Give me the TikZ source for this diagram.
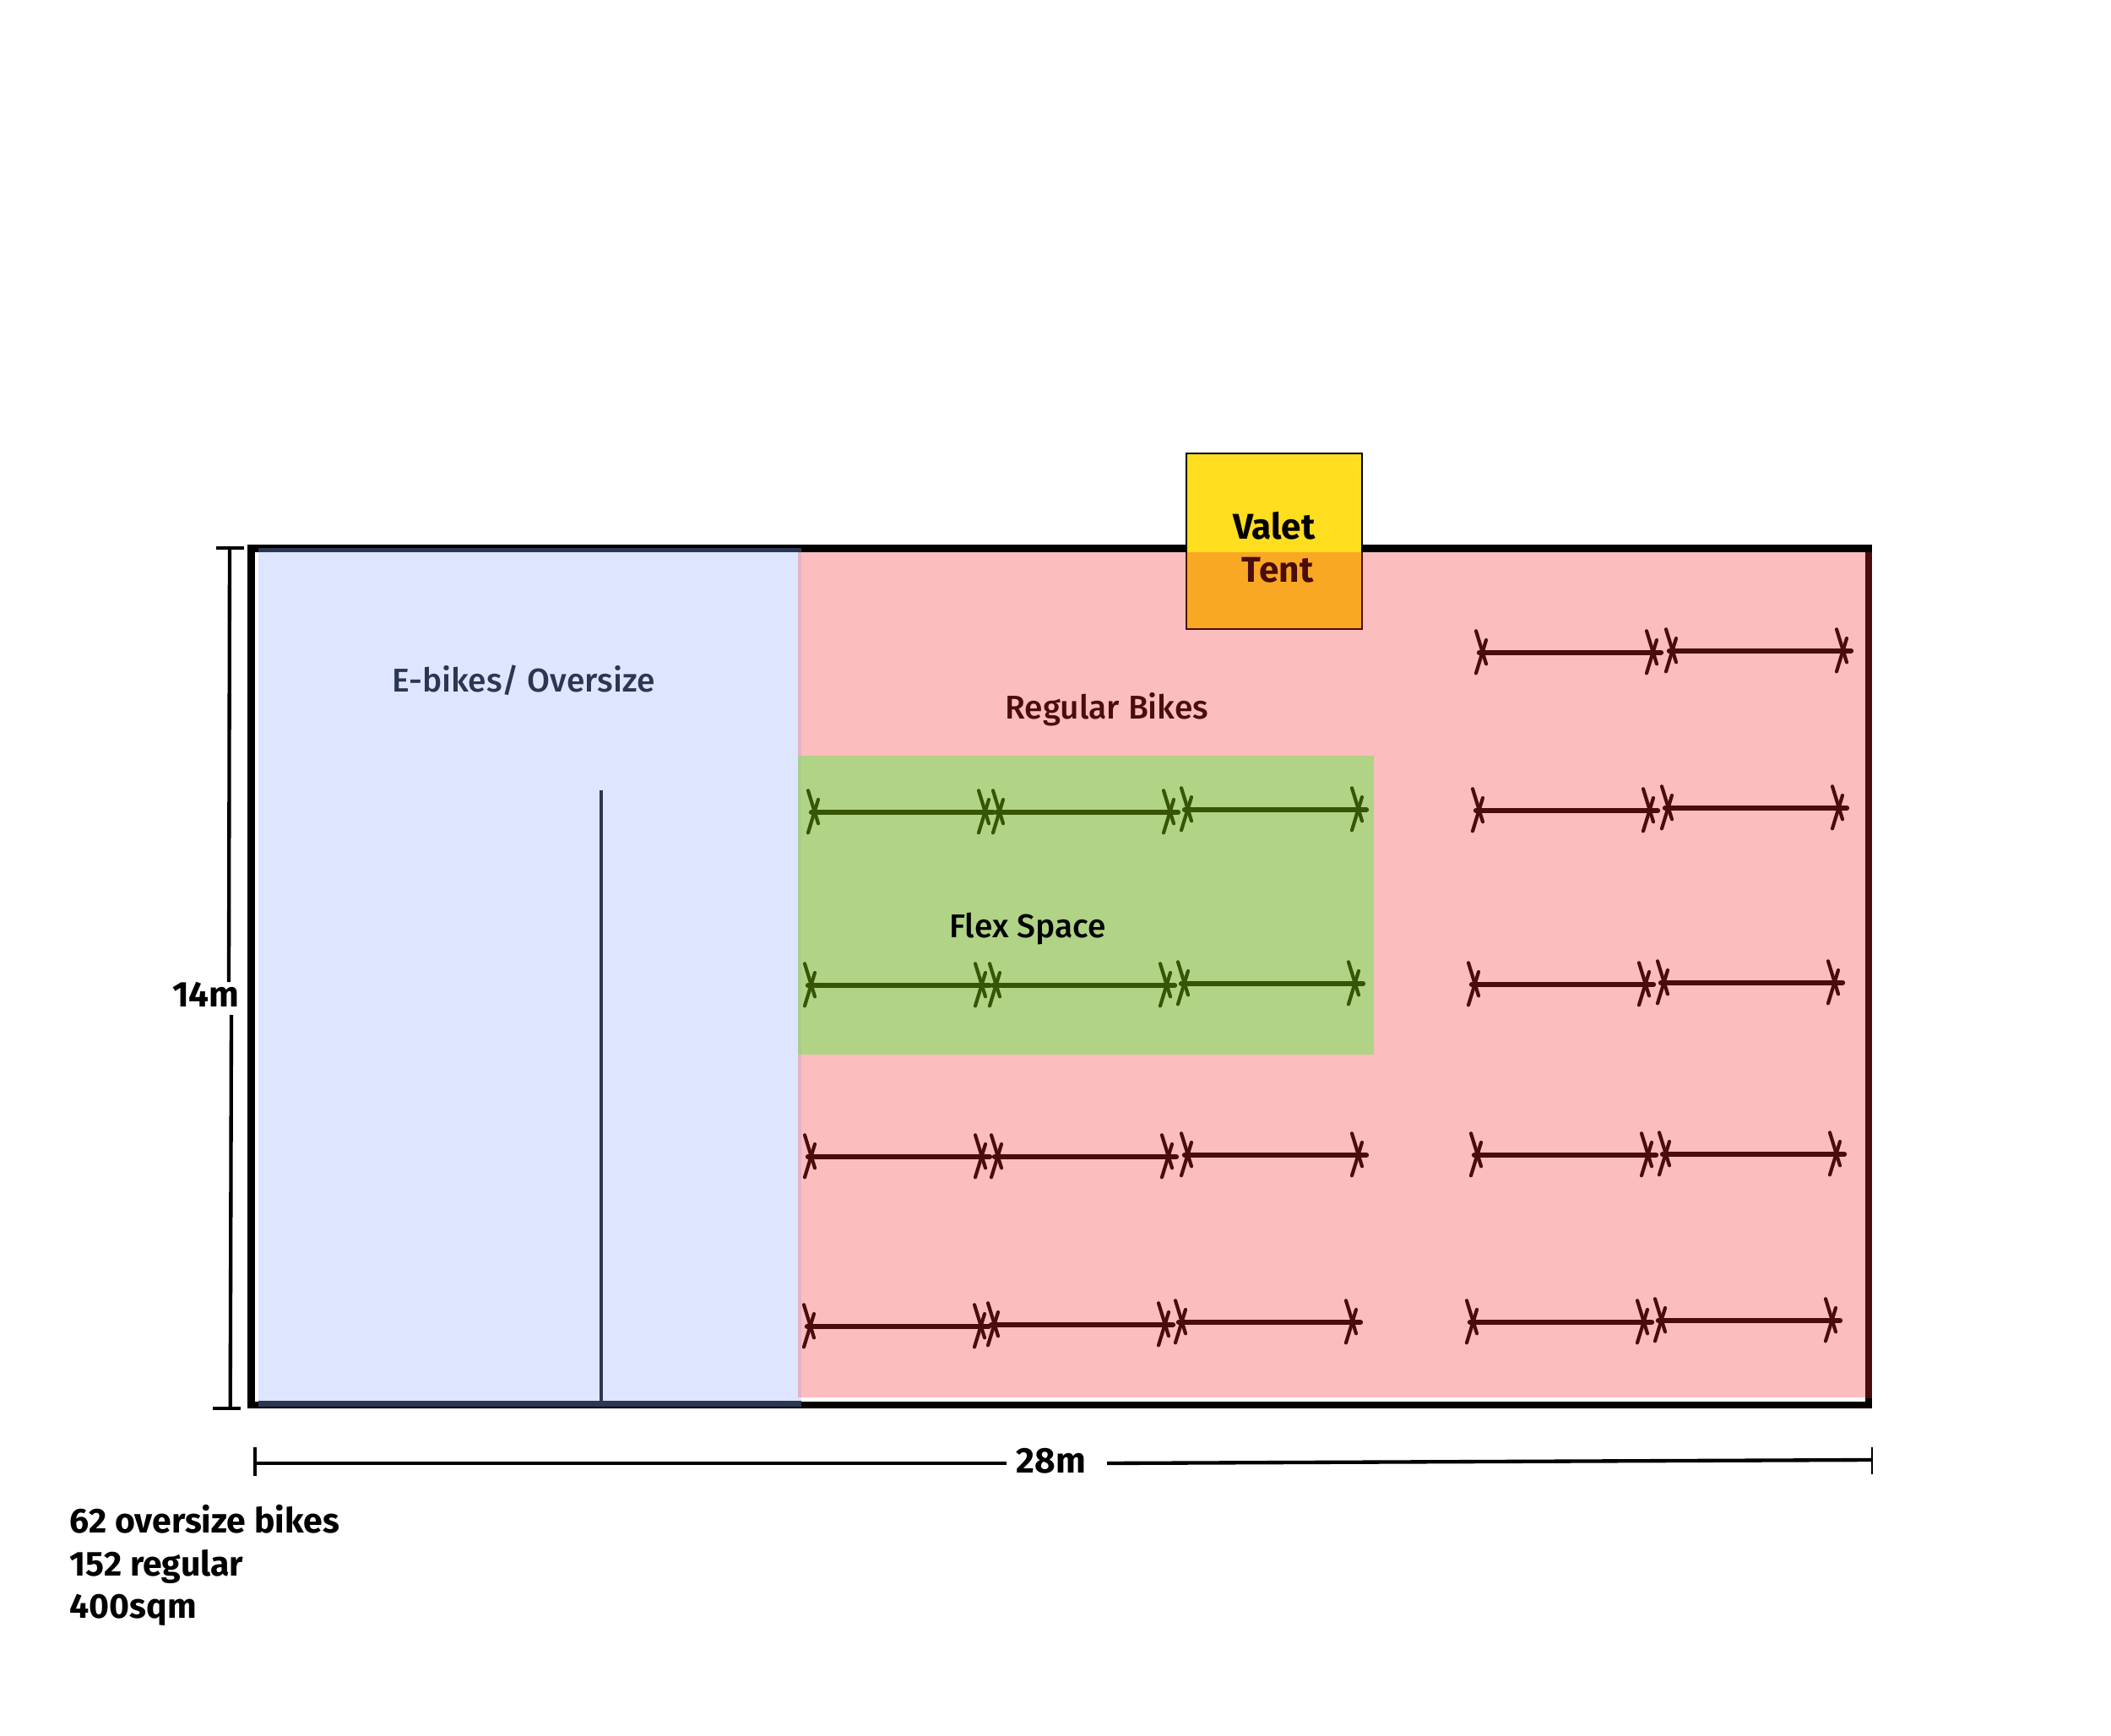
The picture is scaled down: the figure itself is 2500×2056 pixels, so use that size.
\documentclass[tikz,border=0pt]{standalone}
\usepackage{fontspec}
\setmainfont{Fira Sans}
\newfontfamily\medf{Fira Sans Medium}
\definecolor{blueF}{HTML}{DEE5FE}
\definecolor{pinkF}{HTML}{FBBDBE}
\definecolor{mauve}{HTML}{E6B2C6}
\definecolor{greenF}{HTML}{B0D386}
\definecolor{greenE}{HTML}{A8CE8A}
\definecolor{navy}{HTML}{2B3752}
\definecolor{maroon}{HTML}{4A0C0C}
\definecolor{leaf}{HTML}{365505}
\definecolor{yel}{HTML}{FFDD1F}
\definecolor{org}{HTML}{F9A823}
\newcommand{\rackseg}[3]{%
  \begin{scope}[shift={(#1,#2)},draw=#3]
    \draw[seg] (-2,0) -- (213,0);
    \draw[barb] (-6,-25.7) -- (6,13.3);
    \draw[barb] (6,-15) -- (-6,24.3);
    \draw[barb] (196,-25.7) -- (208,13.3);
    \draw[barb] (208,-15) -- (196,24.3);
  \end{scope}}
\tikzset{
  x=0.3pt,y=-0.3pt,
  seg/.style={line width=1.9pt,line cap=round},
  barb/.style={line width=1.25pt,line cap=round},
  dim/.style={line width=1.3pt,black},
  lab/.style={inner sep=0pt,font=\medf\fontsize{11.7}{14}\selectfont},
  boldlab/.style={inner sep=0pt,font=\fontsize{12.7}{15}\selectfont\bfseries,text=black},
  notelab/.style={boldlab,anchor=base west,font=\fontsize{12.3}{15}\selectfont\bfseries},
}
\begin{document}
\begin{tikzpicture}
\useasboundingbox (0,0) rectangle (2500,2056);
\fill[white] (0,0) rectangle (2500,2056);
% outline
\fill[black] (293,645) rectangle (2217,1668);
\fill[white] (302,654) rectangle (2209,1660);
\fill[maroon] (2209,654) rectangle (2217,1656);
% zones
\fill[navy] (306,649) rectangle (949,654);
\fill[blueF] (306,654) rectangle (949,1658.5);
\fill[navy] (306,1659) rectangle (949,1666);
\fill[pinkF] (949,654) rectangle (2209,1655);
\fill[mauve] (945,654) rectangle (949,1655);
\fill[greenF] (949,895) rectangle (1627,1249);
\fill[greenE] (945,895) rectangle (949,1249);
\draw[navy,line width=1.1pt] (712,936) -- (712,1661);
% racks, flex
\rackseg{963}{962}{leaf}\rackseg{1182}{962}{leaf}\rackseg{1405}{959}{leaf}
\rackseg{959}{1167}{leaf}\rackseg{1178}{1167}{leaf}\rackseg{1401}{1165}{leaf}
% racks, regular
\rackseg{959}{1370}{maroon}\rackseg{1180}{1370}{maroon}\rackseg{1405}{1368}{maroon}
\rackseg{958}{1571}{maroon}\rackseg{1176}{1569}{maroon}\rackseg{1398}{1566}{maroon}
\rackseg{1754}{773}{maroon}\rackseg{1979}{771}{maroon}
\rackseg{1750}{960}{maroon}\rackseg{1974}{957}{maroon}
\rackseg{1745}{1166}{maroon}\rackseg{1969}{1164}{maroon}
\rackseg{1748}{1368}{maroon}\rackseg{1971}{1367}{maroon}
\rackseg{1743}{1566}{maroon}\rackseg{1966}{1564}{maroon}
% tent
\fill[yel] (1405,537) rectangle (1613,654);
\fill[org] (1405,654) rectangle (1613,745);
\draw[line width=0.6pt,black] (1405,654) -- (1405,537) -- (1613,537) -- (1613,654);
\draw[line width=0.6pt,maroon] (1405,654) -- (1405,745) -- (1613,745) -- (1613,654);
\node[boldlab,anchor=base] (valet) at (1509,639) {Valet};
\node[boldlab,anchor=base,text=maroon] (tent) at (1513,690) {Tent};
% labels
\node[lab,text=navy] (ebikes) at (620,806) {E-bikes/ Oversize};
\node[lab,text=maroon] (regular) at (1311,840) {Regular Bikes};
\node[lab,text=black,anchor=base] (flex) at (1217,1111) {Flex Space};
% dimensions
\draw[dim] (272,649) -- (271,1163);
\draw[dim] (274,1202) -- (272.7,1668);
\draw[dim] (256,649) -- (289,649);
\draw[dim] (252,1668) -- (285,1668);
\node[boldlab,anchor=base] (h) at (244,1192) {14m};
\draw[dim] (302,1714) -- (302,1748);
\draw[dim] (302,1733) -- (1192,1733);
\draw[dim] (1311,1733) -- (2217,1729);
\draw[line width=0.6pt,black] (2217,1714) -- (2217,1746);
\node[boldlab,anchor=base] (w) at (1245,1744) {28m};
\node[notelab] (n1) at (82,1815) {62 oversize bikes};
\node[notelab] (n2) at (82,1866) {152 regular};
\node[notelab] (n3) at (82,1916) {400sqm};
\end{tikzpicture}
\end{document}
